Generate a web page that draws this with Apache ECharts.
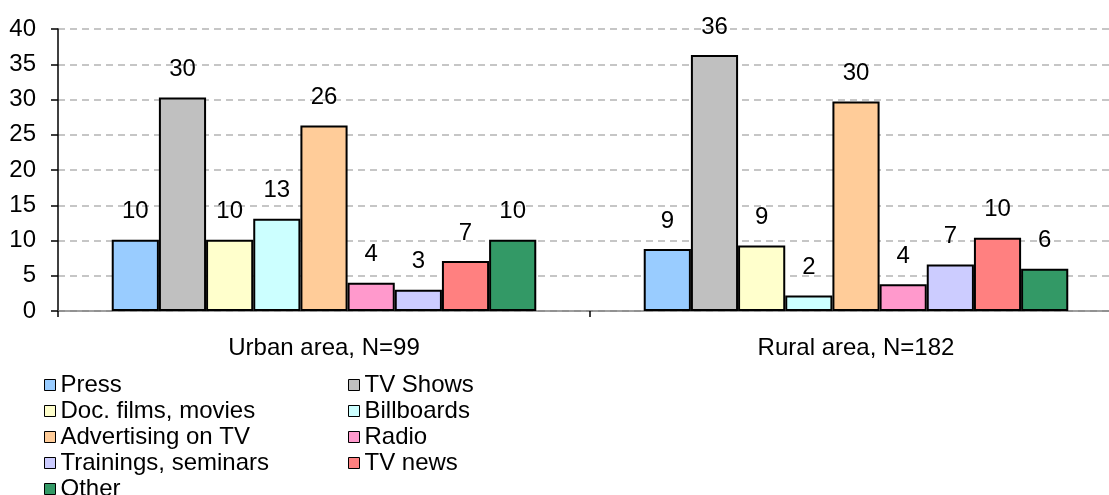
<!DOCTYPE html>
<html>
<head>
<meta charset="utf-8">
<script src="https://cdn.jsdelivr.net/npm/echarts@6/dist/echarts.min.js"></script>
<style>
  html, body { margin: 0; padding: 0; background: #ffffff; overflow: hidden; }
  /* the plot area runs slightly past the right edge of the window */
  #chart { width: 1122px; height: 495px; }
</style>
</head>
<body>
<div id="chart"></div>
<script>
// Information sources, share of respondents (%)
const categories = ['Urban area, N=99', 'Rural area, N=182'];

const press       = [10.1, 8.8];
const tvShows     = [30.3, 36.3];
const docFilms    = [10.1, 9.3];
const billboards  = [13.1, 2.2];
const advertising = [26.3, 29.7];
const radio       = [4.0, 3.8];
const trainings   = [3.0, 6.6];
const tvNews      = [7.1, 10.4];
const other       = [10.1, 6.0];

const yTicks = { min: 0, max: 40, interval: 5 };

const FONT = "'Liberation Sans', Arial, sans-serif";
const FONT_SIZE = 24;

const seriesDefs = [
  { name: 'Press',                data: press,       color: '#99CCFF' },
  { name: 'TV Shows',             data: tvShows,     color: '#C0C0C0' },
  { name: 'Doc. films, movies',   data: docFilms,    color: '#FFFFCC' },
  { name: 'Billboards',           data: billboards,  color: '#CCFFFF' },
  { name: 'Advertising on TV',    data: advertising, color: '#FFCC99' },
  { name: 'Radio',                data: radio,       color: '#FF99CC' },
  { name: 'Trainings, seminars',  data: trainings,   color: '#CCCCFF' },
  { name: 'TV news',              data: tvNews,      color: '#FF8080' },
  { name: 'Other',                data: other,       color: '#339966' }
];

// Two-column legend: each column is its own vertical legend
const legendBase = {
  orient: 'vertical',
  top: 372,
  height: 200,
  padding: 0,
  itemGap: 0,
  itemWidth: 11,
  itemHeight: 11,
  itemTextGap: 11,
  icon: 'rect',
  selectedMode: false,
  itemStyle: { borderColor: '#000000', borderWidth: 1 },
  textStyle: { fontFamily: FONT, fontSize: FONT_SIZE, lineHeight: 26, color: '#000000' }
};

const chart = echarts.init(document.getElementById('chart'));

chart.setOption({
  animation: false,
  backgroundColor: '#ffffff',
  textStyle: { fontFamily: FONT },
  grid: { left: 58, right: 0, top: 29, bottom: 184, containLabel: false },
  legend: [
    Object.assign({}, legendBase, {
      left: 44,
      data: ['Press', 'Doc. films, movies', 'Advertising on TV', 'Trainings, seminars', 'Other']
    }),
    Object.assign({}, legendBase, {
      left: 348,
      data: ['TV Shows', 'Billboards', 'Radio', 'TV news']
    })
  ],
  xAxis: {
    type: 'category',
    data: categories,
    boundaryGap: true,
    axisLine: { show: true, lineStyle: { color: '#808080', width: 1.5 } },
    axisTick: { show: true, length: 6, lineStyle: { color: '#000000', width: 1.5 } },
    axisLabel: { color: '#000000', fontSize: FONT_SIZE, fontFamily: FONT, margin: 25 },
    splitLine: { show: false }
  },
  yAxis: {
    type: 'value',
    min: yTicks.min,
    max: yTicks.max,
    interval: yTicks.interval,
    axisLine: { show: true, lineStyle: { color: '#000000', width: 1.5 } },
    axisTick: { show: true, length: 7, lineStyle: { color: '#000000', width: 1.5 } },
    axisLabel: { color: '#000000', fontSize: FONT_SIZE, fontFamily: FONT, margin: 22 },
    splitLine: { show: true, lineStyle: { color: '#B4B4B4', width: 1.5, type: [7, 5] } }
  },
  series: seriesDefs.map(function (s) {
    return {
      name: s.name,
      type: 'bar',
      data: s.data,
      barGap: '0%',
      barCategoryGap: '20.2%',
      itemStyle: { color: s.color, borderColor: '#000000', borderWidth: 2 },
      emphasis: { disabled: true },
      label: {
        show: true,
        position: 'top',
        distance: 16,
        color: '#000000',
        fontSize: FONT_SIZE,
        fontFamily: FONT,
        formatter: function (p) { return Math.round(p.value).toFixed(0); }
      }
    };
  })
});
</script>
</body>
</html>
